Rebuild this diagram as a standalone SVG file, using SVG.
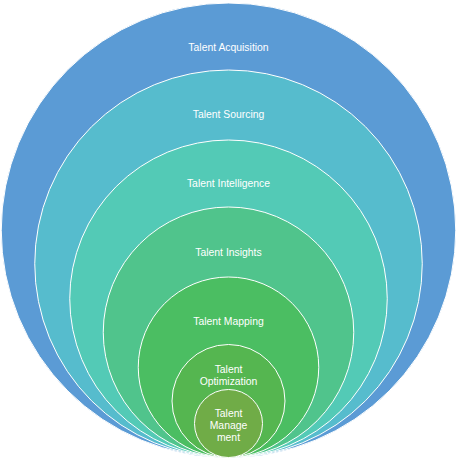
<svg xmlns="http://www.w3.org/2000/svg" width="462" height="459" viewBox="0 0 462 459">
<style>
.c{stroke:#ffffff;stroke-width:1}
.t{font-family:"Liberation Sans",Arial,sans-serif;font-size:10.4px;fill:#ffffff;text-anchor:middle}
</style>
<rect width="462" height="459" fill="#ffffff"/>
<g id="acquisition"><circle class="c" cx="228.5" cy="230.25" r="227.25" fill="#5B9BD5" stroke="none"/><text class="t" x="228.5" y="51">Talent Acquisition</text></g>
<g id="sourcing"><circle class="c" cx="228.5" cy="263.75" r="193.75" fill="#56BCCD"/><text class="t" x="228.5" y="118">Talent Sourcing</text></g>
<g id="intelligence"><circle class="c" cx="228.5" cy="298.75" r="158.75" fill="#53CAB6"/><text class="t" x="228.5" y="187">Talent Intelligence</text></g>
<g id="insights"><circle class="c" cx="228.5" cy="332.25" r="125.25" fill="#50C48C"/><text class="t" x="228.5" y="256">Talent Insights</text></g>
<g id="mapping"><circle class="c" cx="228.5" cy="367.25" r="90.25" fill="#4BBE62"/><text class="t" x="228.5" y="325">Talent Mapping</text></g>
<g id="optimization"><circle class="c" cx="228.5" cy="401" r="56.5" fill="#55B650"/><text class="t" x="228.5" y="373">Talent</text><text class="t" x="228.5" y="385">Optimization</text></g>
<g id="management"><circle class="c" cx="228.5" cy="423.5" r="34" fill="#70AC47"/><text class="t" x="228.5" y="417">Talent</text><text class="t" x="228.5" y="429">Manage</text><text class="t" x="228.5" y="441">ment</text></g>
<g id="connectors"></g>
</svg>
